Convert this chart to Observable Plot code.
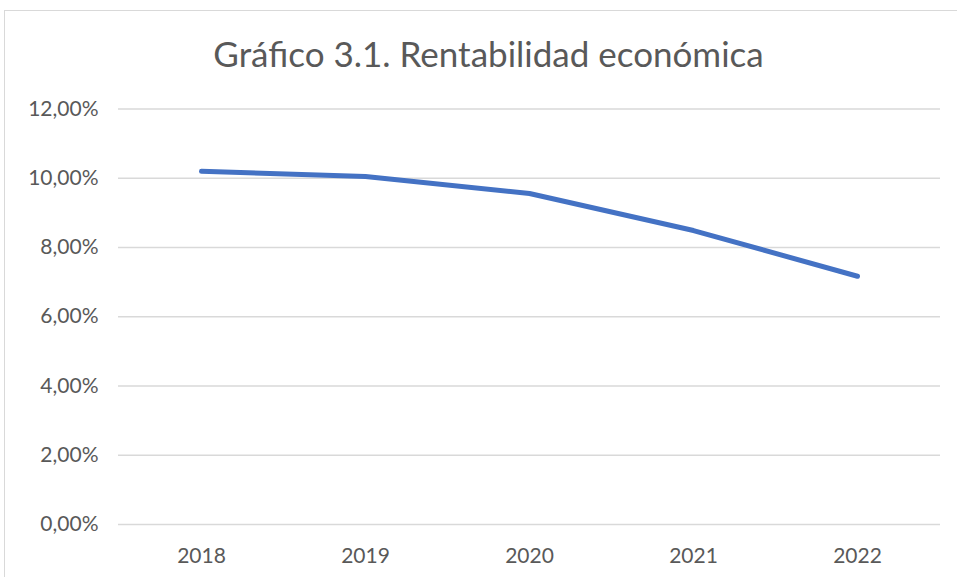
<!DOCTYPE html>
<html><head><meta charset="utf-8">
<script src="https://cdn.jsdelivr.net/npm/d3@7"></script>
<script src="https://cdn.jsdelivr.net/npm/@observablehq/plot@0.6"></script>
<style>
body{margin:0;background:#fff;font-family:Lato,"Open Sans",sans-serif;}
#frame{position:absolute;left:4px;top:10px;width:1000px;height:600px;border-left:1px solid #d9d9d9;border-top:1px solid #d9d9d9;}
#title{position:absolute;left:0;top:0;width:977px;height:90px;text-align:center;line-height:106px;font-size:35px;color:#595959;}
#chart{position:absolute;left:0;top:90px;}
</style></head>
<body>
<div id="frame"></div>
<div id="title">Gráfico 3.1. Rentabilidad económica</div>
<div id="chart"></div>
<script>
const years = ["2018","2019","2020","2021","2022"];
const values = [0.1020, 0.1005, 0.0956, 0.0849, 0.0717];
const yTicks = [0, 0.02, 0.04, 0.06, 0.08, 0.10, 0.12];
const data = years.map((y,i)=>({year:y, value:values[i]}));
const fmt = d => (d*100).toFixed(2).replace(".", ",") + "%";
const chart = Plot.plot({
  width: 957, height: 484,
  marginLeft: 118, marginRight: 17, marginTop: 18.5, marginBottom: 50,
  style: {fontFamily: "Lato, 'Open Sans', sans-serif", fontSize: "21px", color: "#595959", background: "transparent"},
  x: {type: "point", domain: years, padding: 0.5, label: null, tickSize: 0, tickPadding: 24},
  y: {domain: [0, 0.12], ticks: yTicks, tickFormat: fmt, label: null, tickSize: 0, tickPadding: 20},
  marks: [
    Plot.ruleY(yTicks, {stroke: "#d9d9d9", strokeWidth: 1.3, strokeOpacity: 1}),
    Plot.line(data, {x: "year", y: "value", stroke: "#4472C4", strokeWidth: 5, strokeLinecap: "round", strokeLinejoin: "round"})
  ]
});
document.getElementById("chart").appendChild(chart);
</script>
</body></html>
